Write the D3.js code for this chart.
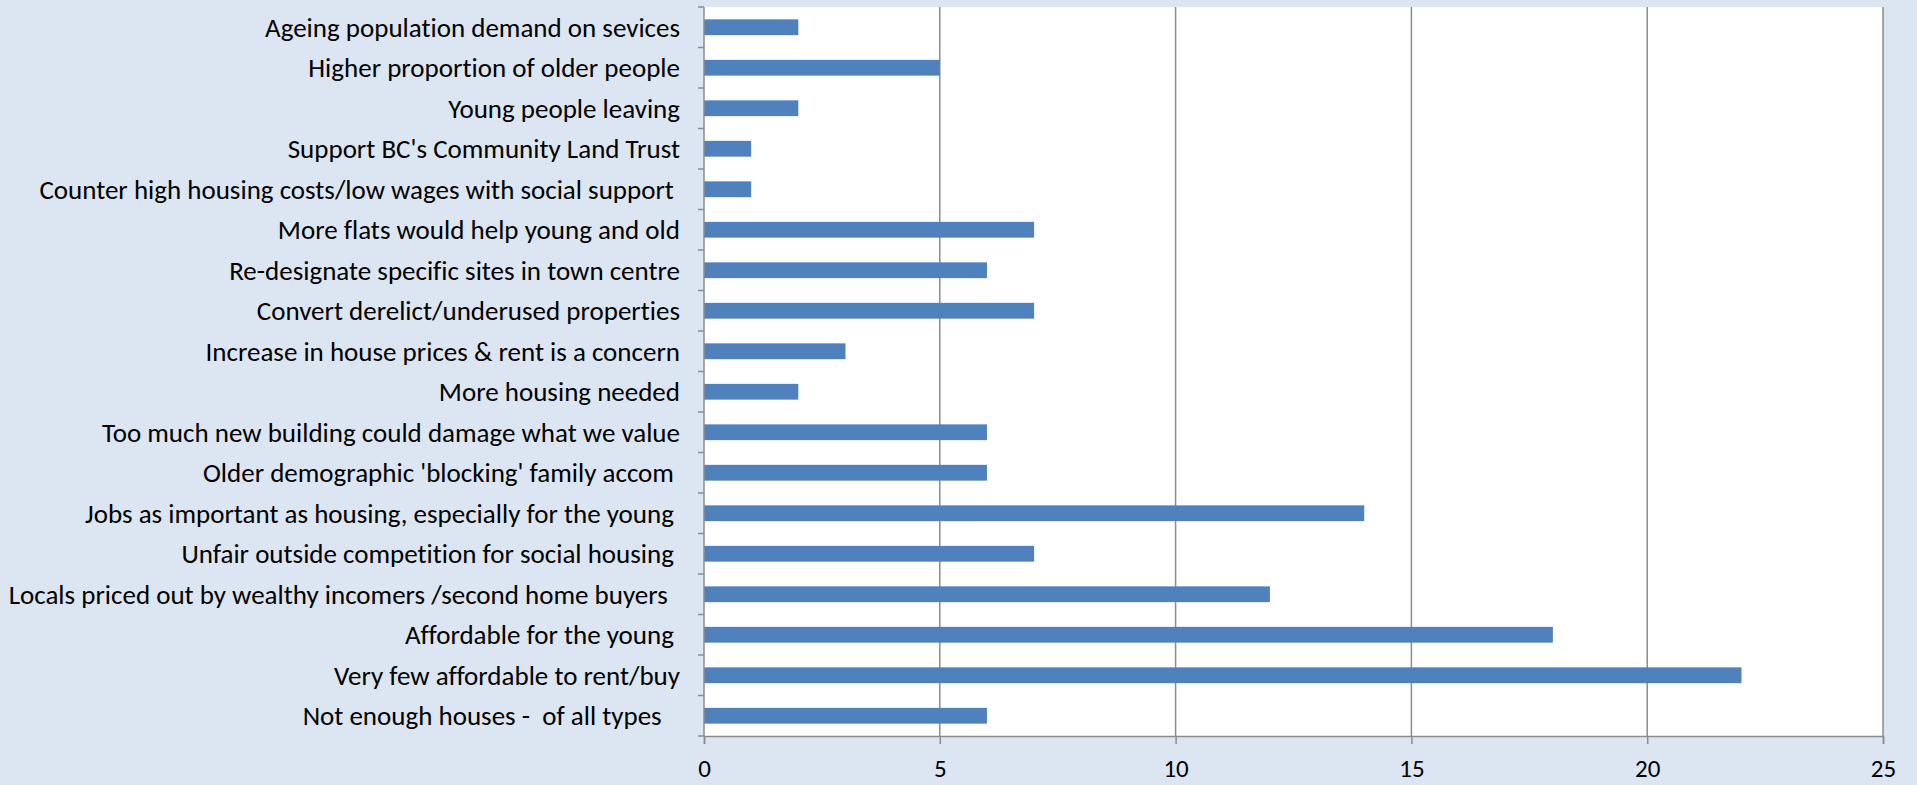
<!DOCTYPE html>
<html>
<head>
<meta charset="utf-8">
<script src="https://cdn.jsdelivr.net/npm/d3@7"></script>
<style>
  body { margin: 0; background: #dce6f2; }
  text { font-family: Carlito, Lato, "Open Sans", sans-serif; fill: #000; white-space: pre; font-variant-ligatures: none; }
</style>
</head>
<body>
<div id="viz-container"></div>
<script>
// categories, top to bottom as they appear
let categories = [
    "Ageing population demand on sevices",
    "Higher proportion of older people",
    "Young people leaving",
    "Support BC's Community Land Trust",
    "Counter high housing costs/low wages with social support ",
    "More flats would help young and old",
    "Re-designate specific sites in town centre",
    "Convert derelict/underused properties",
    "Increase in house prices & rent is a concern",
    "More housing needed",
    "Too much new building could damage what we value",
    "Older demographic 'blocking' family accom ",
    "Jobs as important as housing, especially for the young ",
    "Unfair outside competition for social housing ",
    "Locals priced out by wealthy incomers /second home buyers  ",
    "Affordable for the young ",
    "Very few affordable to rent/buy",
    "Not enough houses -  of all types   "
];
let counts = [2, 5, 2, 1, 1, 7, 6, 7, 3, 2, 6, 6, 14, 7, 12, 18, 22, 6];
let xTicks = [0, 5, 10, 15, 20, 25];

let width = 1917, height = 785;
let plotLeft = 704, plotRight = 1883, plotTop = 7, plotBottom = 736;

let viz = d3.select("#viz-container")
    .append("svg")
    .attr("width", width)
    .attr("height", height)
    .style("background-color", "#dce6f2");

let x = d3.scaleLinear().domain([0, 25]).range([plotLeft, plotRight]);
let y = d3.scaleBand().domain(categories).range([plotTop, plotBottom]).paddingInner(0.61).paddingOuter(0.305);

// plot background
viz.append("rect")
    .attr("x", plotLeft).attr("y", plotTop)
    .attr("width", plotRight - plotLeft).attr("height", plotBottom - plotTop)
    .attr("fill", "white");

// vertical gridlines
viz.selectAll(".grid").data(xTicks.slice(1)).enter().append("line")
    .attr("class", "grid")
    .attr("x1", d => x(d)).attr("x2", d => x(d))
    .attr("y1", plotTop).attr("y2", plotBottom)
    .attr("stroke", "#8c8c8c")
    .attr("stroke-width", 1.5);

// bars
viz.selectAll(".bar").data(counts).enter().append("rect")
    .attr("class", "bar")
    .attr("x", x(0))
    .attr("y", (d, i) => y(categories[i]))
    .attr("width", d => x(d) - x(0))
    .attr("height", y.bandwidth())
    .attr("fill", "#4f81bd");

// x axis
let xAxis = viz.append("g")
    .attr("transform", "translate(0," + plotBottom + ")")
    .call(d3.axisBottom(x).tickValues(xTicks).tickSize(8).tickPadding(15));
xAxis.select(".domain").attr("stroke", "#8c8c8c").attr("stroke-width", 1.5);
xAxis.selectAll(".tick line").attr("stroke", "#8c8c8c").attr("stroke-width", 1.5);
xAxis.selectAll("text").style("font-size", "25px").style("font-family", "Carlito, Lato, 'Open Sans', sans-serif").attr("fill", "#000");

// y axis with ticks between categories
let yBounds = d3.range(categories.length + 1).map(i => plotTop + i * (plotBottom - plotTop) / categories.length);
viz.append("line")
    .attr("x1", plotLeft).attr("x2", plotLeft)
    .attr("y1", plotTop).attr("y2", plotBottom)
    .attr("stroke", "#8c8c8c").attr("stroke-width", 1.5);
viz.selectAll(".ytick").data(yBounds).enter().append("line")
    .attr("class", "ytick")
    .attr("x1", plotLeft - 6).attr("x2", plotLeft)
    .attr("y1", d => d).attr("y2", d => d)
    .attr("stroke", "#8c8c8c").attr("stroke-width", 1.5);

// category labels
viz.selectAll(".label").data(categories).enter().append("text")
    .attr("class", "label")
    .attr("x", plotLeft - 24)
    .attr("y", d => y(d) + y.bandwidth() / 2)
    .attr("dy", "0.35em")
    .attr("text-anchor", "end")
    .style("font-size", "27px")
    .text(d => d);
</script>
</body>
</html>
